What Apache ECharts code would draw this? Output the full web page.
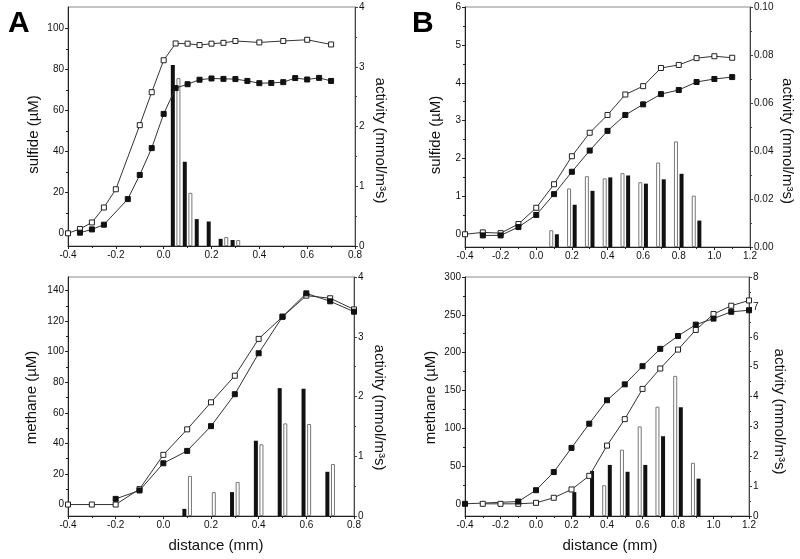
<!DOCTYPE html>
<html>
<head>
<meta charset="utf-8">
<script src="https://cdn.jsdelivr.net/npm/echarts@6/dist/echarts.min.js"></script>
<style>
  html, body { margin: 0; padding: 0; background: #fff; }
  #chart { width: 800px; height: 559px; }
</style>
</head>
<body>
<div id="chart"></div>
<script>
// ---------- Panel A, top: sulfide ----------
const aTopOpenX = [-0.4, -0.35, -0.3, -0.25, -0.2, -0.1, -0.05, 0, 0.05, 0.1, 0.15, 0.2, 0.25, 0.3, 0.4, 0.5, 0.6, 0.7];
const aTopOpenY = [0, 2.1, 5.3, 12.6, 21.5, 52.8, 68.9, 84.5, 92.7, 92.6, 91.9, 92.6, 93.0, 93.9, 93.2, 93.9, 94.5, 92.2];
const aTopFilledX = [-0.35, -0.3, -0.25, -0.15, -0.1, -0.05, 0, 0.05, 0.1, 0.15, 0.2, 0.25, 0.3, 0.35, 0.4, 0.45, 0.5, 0.55, 0.6, 0.65, 0.7];
const aTopFilledY = [0.3, 1.9, 4.2, 16.7, 28.5, 41.6, 58.3, 70.9, 72.8, 75.0, 75.6, 75.4, 75.3, 74.4, 73.3, 73.4, 73.8, 75.8, 75.1, 75.9, 74.4];
const aTopBarFilledX = [0.05, 0.1, 0.15, 0.2, 0.25, 0.3];
const aTopBarFilledY = [3.03, 1.41, 0.45, 0.41, 0.12, 0.10];
const aTopBarOpenX = [0.05, 0.1, 0.25, 0.3];
const aTopBarOpenY = [2.81, 0.89, 0.15, 0.10];

// ---------- Panel A, bottom: methane ----------
const aBotOpenX = [-0.4, -0.3, -0.2, -0.1, 0, 0.1, 0.2, 0.3, 0.4, 0.5, 0.6, 0.7, 0.8];
const aBotOpenY = [0, 0, 0, 10.1, 32.5, 49.2, 66.9, 84.3, 108.4, 122.9, 136.7, 135.0, 127.7];
const aBotFilledX = [-0.2, -0.1, 0, 0.1, 0.2, 0.3, 0.4, 0.5, 0.6, 0.7, 0.8];
const aBotFilledY = [3.7, 9.2, 27.0, 35.1, 51.3, 72.2, 99.0, 122.9, 138.2, 133.0, 126.2];
const aBotBarFilledX = [0.1, 0.3, 0.4, 0.5, 0.6, 0.7];
const aBotBarFilledY = [0.12, 0.40, 1.26, 2.14, 2.13, 0.74];
const aBotBarOpenX = [0.1, 0.2, 0.3, 0.4, 0.5, 0.6, 0.7];
const aBotBarOpenY = [0.67, 0.40, 0.57, 1.20, 1.55, 1.54, 0.87];

// ---------- Panel B, top: sulfide ----------
const bTopOpenX = [-0.4, -0.3, -0.2, -0.1, 0, 0.1, 0.2, 0.3, 0.4, 0.5, 0.6, 0.7, 0.8, 0.9, 1.0, 1.1];
const bTopOpenY = [0, 0.05, 0.03, 0.27, 0.70, 1.32, 2.06, 2.68, 3.15, 3.69, 3.91, 4.39, 4.47, 4.65, 4.70, 4.66];
const bTopFilledX = [-0.3, -0.2, -0.1, 0, 0.1, 0.2, 0.3, 0.4, 0.5, 0.6, 0.7, 0.8, 0.9, 1.0, 1.1];
const bTopFilledY = [-0.03, -0.03, 0.19, 0.51, 1.06, 1.65, 2.21, 2.73, 3.15, 3.43, 3.70, 3.81, 4.02, 4.10, 4.15];
const bTopBarX = [0.1, 0.2, 0.3, 0.4, 0.5, 0.6, 0.7, 0.8, 0.9];
const bTopBarOpenY = [0.0070, 0.0244, 0.0295, 0.0286, 0.0308, 0.0270, 0.0352, 0.0440, 0.0214];
const bTopBarFilledY = [0.0053, 0.0176, 0.0234, 0.0290, 0.0298, 0.0264, 0.0282, 0.0305, 0.0110];

// ---------- Panel B, bottom: methane ----------
const bBotOpenX = [-0.3, -0.2, -0.1, 0, 0.1, 0.2, 0.3, 0.4, 0.5, 0.6, 0.7, 0.8, 0.9, 1.0, 1.1, 1.2];
const bBotOpenY = [0, 0, 0, 1.3, 8, 19, 37, 77, 112, 152, 179, 204, 230, 251, 262, 269];
const bBotFilledX = [-0.4, -0.1, 0, 0.1, 0.2, 0.3, 0.4, 0.5, 0.6, 0.7, 0.8, 0.9, 1.0, 1.1, 1.2];
const bBotFilledY = [0, 3, 18, 42, 74, 106, 137, 158, 182, 205, 222, 237, 245, 254, 256];
const bBotBarOpenX = [0.4, 0.5, 0.6, 0.7, 0.8, 0.9];
const bBotBarOpenY = [1.03, 2.22, 3.00, 3.66, 4.69, 1.78];
const bBotBarFilledX = [0.2, 0.3, 0.4, 0.5, 0.6, 0.7, 0.8, 0.9];
const bBotBarFilledY = [0.80, 1.51, 1.71, 1.48, 1.71, 2.67, 3.64, 1.25];

// ---------- tick labels ----------
const aTopLeftTicks = [0, 20, 40, 60, 80, 100];
const aTopLeftMinor = [10, 30, 50, 70, 90];
const aBotLeftTicks = [0, 20, 40, 60, 80, 100, 120, 140];
const aBotLeftMinor = [10, 30, 50, 70, 90, 110, 130];
const bTopLeftTicks = [0, 1, 2, 3, 4, 5, 6];
const bTopLeftMinor = [0.5, 1.5, 2.5, 3.5, 4.5, 5.5];
const bBotLeftTicks = [0, 50, 100, 150, 200, 250, 300];
const bBotLeftMinor = [25, 75, 125, 175, 225, 275];

const panelLetters = ['A', 'B'];
const xTitle = 'distance (mm)';
const rightTitle = 'activity (mmol/m\u00B3s)';
const sulfideTitle = 'sulfide (\u00B5M)';
const methaneTitle = 'methane (\u00B5M)';

const FONT = "'Liberation Sans', Arial, sans-serif";
const zip = (xs, ys) => xs.map((x, i) => [x, ys[i]]);

const grids = [
  { left: 68, top: 7, width: 287, height: 239 },
  { left: 68, top: 277, width: 286, height: 239 },
  { left: 465, top: 7, width: 285, height: 240 },
  { left: 465, top: 277, width: 284, height: 239 }
].map(g => Object.assign({ show: true, borderColor: '#8a8a8a', borderWidth: 1, backgroundColor: 'transparent' }, g));

function xAxis(gi, max, showTitle, shift) {
  return {
    type: 'value', gridIndex: gi, min: -0.4, max: max, interval: 0.2,
    axisLine: { show: true, onZero: false, lineStyle: { color: '#222', width: 1 } },
    axisTick: { show: true, length: 3, lineStyle: { color: '#222' } },
    minorTick: { show: true, splitNumber: 2, length: 2, lineStyle: { color: '#222' } },
    axisLabel: { fontSize: 10, fontFamily: FONT, color: '#111', margin: 4, formatter: v => v.toFixed(1) },
    splitLine: { show: false },
    name: showTitle ? xTitle : '', nameLocation: 'middle', nameGap: 22,
    nameTextStyle: { fontSize: 15, fontFamily: FONT, color: '#111', padding: [0, 0, 0, 2 * (shift || 0)] }
  };
}
function leftAxis(gi, min, max, ticks) {
  return {
    type: 'value', gridIndex: gi, min: min, max: max, position: 'left',
    axisLine: { show: true, onZero: false, lineStyle: { color: '#222', width: 1 } },
    axisTick: { show: true, length: 3, customValues: ticks, lineStyle: { color: '#222' } },
    axisLabel: { customValues: ticks, fontSize: 10, fontFamily: FONT, color: '#111', margin: 4 },
    splitLine: { show: false }
  };
}
// companion left axis: minor ticks + axis title (no labels of its own)
function minorAxis(gi, min, max, minors, title, gap, down) {
  return {
    type: 'value', gridIndex: gi, min: min, max: max, position: 'left',
    axisLine: { show: false, onZero: false },
    axisTick: { show: true, length: 2, customValues: minors, lineStyle: { color: '#222' } },
    axisLabel: { show: false },
    splitLine: { show: false },
    name: title, nameLocation: 'middle', nameRotate: 90, nameGap: gap,
    nameTextStyle: { fontSize: 15, fontFamily: FONT, color: '#111', padding: [0, 2 * down, 0, 0] }
  };
}
function rightAxis(gi, max, interval, digits, gap, down) {
  return {
    type: 'value', gridIndex: gi, min: 0, max: max, interval: interval, position: 'right',
    axisLine: { show: true, onZero: false, lineStyle: { color: '#444', width: 1 } },
    axisTick: { show: true, length: 3, lineStyle: { color: '#444' } },
    minorTick: { show: true, splitNumber: 2, length: 2, lineStyle: { color: '#444' } },
    axisLabel: { fontSize: 10, fontFamily: FONT, color: '#111', margin: 4, formatter: v => v.toFixed(digits) },
    splitLine: { show: false },
    name: rightTitle, nameLocation: 'middle', nameRotate: -90, nameGap: gap,
    nameTextStyle: { fontSize: 15, fontFamily: FONT, color: '#111', padding: [0, 0, 0, 2 * down] }
  };
}

function lineSeries(xi, yi, data, filled) {
  return {
    type: 'line', xAxisIndex: xi, yAxisIndex: yi, data: data, clip: false,
    symbol: 'rect', symbolSize: 5, z: 5,
    lineStyle: { color: '#333', width: 1 },
    itemStyle: filled ? { color: '#111', borderColor: '#111', borderWidth: 1 } : { color: '#fff', borderColor: '#222', borderWidth: 1 },
    animation: false
  };
}
function barSeries(xi, yi, data, filled) {
  return {
    type: 'bar', xAxisIndex: xi, yAxisIndex: yi, data: data, barWidth: 4, barGap: '40%', z: 2,
    itemStyle: filled ? { color: '#111' } : { color: '#fff', borderColor: '#777', borderWidth: 1 },
    animation: false
  };
}

// y axes: per grid -> left (major), left (minor ticks + title), right
const yAxes = [
  leftAxis(0, -6.2, 110.5, aTopLeftTicks),                                // 0
  minorAxis(0, -6.2, 110.5, aTopLeftMinor, sulfideTitle, 27, 8),          // 1
  rightAxis(0, 4, 1, 0, 18, 14),                                           // 2
  leftAxis(1, -7.5, 148.9, aBotLeftTicks),                                // 3
  minorAxis(1, -7.5, 148.9, aBotLeftMinor, methaneTitle, 29, 1),          // 4
  rightAxis(1, 4, 1, 0, 18, 11),                                           // 5
  leftAxis(2, -0.336, 6, bTopLeftTicks),                                  // 6
  minorAxis(2, -0.336, 6, bTopLeftMinor, sulfideTitle, 22, 8),            // 7
  rightAxis(2, 0.1, 0.02, 2, 30, 14),                                      // 8
  leftAxis(3, -16.1, 300, bBotLeftTicks),                                 // 9
  minorAxis(3, -16.1, 300, bBotLeftMinor, methaneTitle, 27, 1),           // 10
  rightAxis(3, 8, 1, 0, 23, 15)                                            // 11
];

const series = [
  barSeries(0, 2, zip(aTopBarFilledX, aTopBarFilledY), true),
  barSeries(0, 2, zip(aTopBarOpenX, aTopBarOpenY), false),
  lineSeries(0, 0, zip(aTopOpenX, aTopOpenY), false),
  lineSeries(0, 0, zip(aTopFilledX, aTopFilledY), true),

  barSeries(1, 5, zip(aBotBarFilledX, aBotBarFilledY), true),
  barSeries(1, 5, zip(aBotBarOpenX, aBotBarOpenY), false),
  lineSeries(1, 3, zip(aBotOpenX, aBotOpenY), false),
  lineSeries(1, 3, zip(aBotFilledX, aBotFilledY), true),

  barSeries(2, 8, zip(bTopBarX, bTopBarOpenY), false),
  barSeries(2, 8, zip(bTopBarX, bTopBarFilledY), true),
  lineSeries(2, 6, zip(bTopOpenX, bTopOpenY), false),
  lineSeries(2, 6, zip(bTopFilledX, bTopFilledY), true),

  barSeries(3, 11, zip(bBotBarOpenX, bBotBarOpenY), false),
  barSeries(3, 11, zip(bBotBarFilledX, bBotBarFilledY), true),
  lineSeries(3, 9, zip(bBotOpenX, bBotOpenY), false),
  lineSeries(3, 9, zip(bBotFilledX, bBotFilledY), true)
];

const chart = echarts.init(document.getElementById('chart'), null, { renderer: 'canvas' });
chart.setOption({
  animation: false,
  backgroundColor: '#fff',
  grid: grids,
  xAxis: [xAxis(0, 0.8, false, 0), xAxis(1, 0.8, true, 5), xAxis(2, 1.2, false, 0), xAxis(3, 1.2, true, 3)],
  yAxis: yAxes,
  series: series,
  graphic: [
    { type: 'text', left: 8, top: 9, style: { text: panelLetters[0], font: "bold 30px 'Liberation Sans', Arial, sans-serif", fill: '#000' } },
    { type: 'text', left: 412, top: 9, style: { text: panelLetters[1], font: "bold 30px 'Liberation Sans', Arial, sans-serif", fill: '#000' } }
  ]
});
</script>
</body>
</html>
